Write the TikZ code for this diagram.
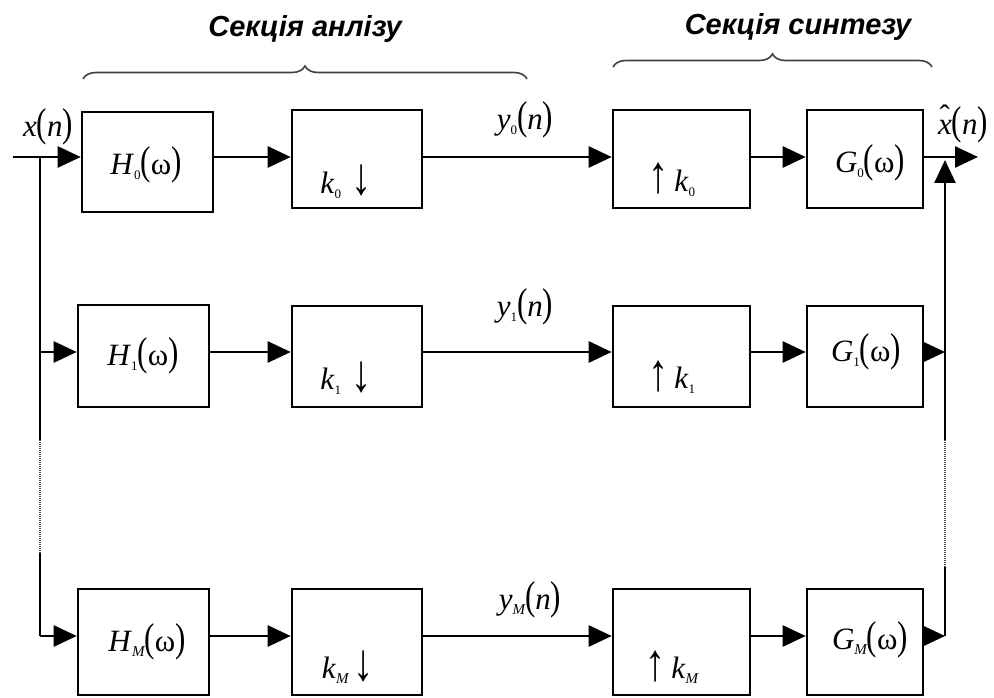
\documentclass[tikz,border=0pt]{standalone}
\usepackage{fontspec}
\usepackage{graphicx}
\setmainfont{Liberation Serif}
\newfontfamily\hdrfont{Liberation Sans}
\usetikzlibrary{arrows.meta,decorations.pathreplacing}
\newcommand{\bp}[1]{\scalebox{1}[1.3]{#1}}
\newcommand{\sub}[1]{\raisebox{-0.35ex}{\fontsize{13}{13}\selectfont #1}}
\newcommand{\subm}[1]{\raisebox{-0.35ex}{\fontsize{15}{15}\selectfont\itshape #1}}
\newcommand{\fn}[3]{\textit{#1}#2\bp{(}#3\bp{)}}
\newcommand{\dn}{\raisebox{-0.1ex}{\scalebox{1.3}[1.7]{↓}}}
\newcommand{\up}{\raisebox{-0.1ex}{\scalebox{1.3}[1.7]{↑}}}
\newcommand{\xhat}{\textit{x}\llap{\raisebox{0.28em}{ˆ}\hspace{0.06em}}}
\begin{document}
\begin{tikzpicture}[x=1pt,y=-1pt,
  blk/.style={draw,line width=2.6pt,inner sep=0pt},
  arr/.style={line width=2.6pt,-{Triangle[length=23pt,width=21pt]}},
  ln/.style={line width=2.6pt},
  dln/.style={line width=2.6pt,dash pattern=on 1pt off 1pt,black!70},
  txt/.style={inner sep=0pt,font=\fontsize{31}{31}\selectfont},
  hdr/.style={inner sep=0pt,font=\hdrfont\fontsize{29}{29}\selectfont\bfseries\itshape},
  brc/.style={decorate,decoration={brace,amplitude=13pt},line width=1.6pt,black!75}]
\useasboundingbox (0,0) rectangle (994,698);
% boxes
\node[blk,minimum width=131pt,minimum height=100pt] (H0) at (147.5,162) {};
\node[blk,minimum width=131pt,minimum height=102pt] (H1) at (143.5,356) {};
\node[blk,minimum width=131pt,minimum height=106pt] (HM) at (143.5,642) {};
\node[blk,minimum width=130pt,minimum height=98pt] (K0) at (357,159) {};
\node[blk,minimum width=130pt,minimum height=101pt] (K1) at (357,356.5) {};
\node[blk,minimum width=130pt,minimum height=106pt] (KM) at (357,642) {};
\node[blk,minimum width=137pt,minimum height=98pt] (U0) at (681.5,159) {};
\node[blk,minimum width=137pt,minimum height=101pt] (U1) at (681.5,356.5) {};
\node[blk,minimum width=137pt,minimum height=106pt] (UM) at (681.5,642) {};
\node[blk,minimum width=116pt,minimum height=98pt] (G0) at (865,159) {};
\node[blk,minimum width=116pt,minimum height=101pt] (G1) at (865,356.5) {};
\node[blk,minimum width=116pt,minimum height=106pt] (GM) at (865,642) {};
% box texts
\node[txt] (H0t) at (146,165) {\fn{H}{\sub{0}}{ω}};
\node[txt] (H1t) at (143,356) {\fn{H}{\sub{1}}{ω}};
\node[txt] (HMt) at (147,642) {\fn{H}{\subm{M}}{ω}};
\node[txt] (K0t) at (346,182) {\textit{k}\sub{0}\,\,\dn};
\node[txt] (K1t) at (346,378) {\textit{k}\sub{1}\,\,\dn};
\node[txt] (KMt) at (348,667) {\textit{k}\subm{M}\,\dn};
\node[txt] (U0t) at (672,180) {\up\,\textit{k}\sub{0}};
\node[txt] (U1t) at (672,377) {\up\,\textit{k}\sub{1}};
\node[txt] (UMt) at (672,667) {\up\,\textit{k}\subm{M}};
\node[txt] (G0t) at (870,163) {\fn{G}{\sub{0}}{ω}};
\node[txt] (G1t) at (866,352) {\fn{G}{\sub{1}}{ω}};
\node[txt] (GMt) at (870,640) {\fn{G}{\subm{M}}{ω}};
% signal labels
\node[txt] (xin) at (48,127) {\textit{x}\bp{(}\textit{n}\bp{)}};
\node[txt] (y0) at (525,120) {\textit{y}\sub{0}\bp{(}\textit{n}\bp{)}};
\node[txt] (y1) at (525,307) {\textit{y}\sub{1}\bp{(}\textit{n}\bp{)}};
\node[txt] (yM) at (530,600) {\textit{y}\subm{M}\bp{(}\textit{n}\bp{)}};
\node[txt] (xout) at (963,124) {\xhat\bp{(}\textit{n}\bp{)}};
% headers
\node[hdr] (ha) at (305,29) {Секція анлізу};
\node[hdr] (hs) at (798,27) {Секція синтезу};
\coordinate (ba1) at (83,79); \coordinate (ba2) at (527,79);
\coordinate (bs1) at (613,67); \coordinate (bs2) at (932,67);
\draw[brc] (ba1) -- (ba2);
\draw[brc] (bs1) -- (bs2);
% line levels
\coordinate (L0) at (0,157);
\coordinate (L1) at (0,352);
\coordinate (LM) at (0,636);
\coordinate (in) at (13,157);
\coordinate (out) at (978,157);
\coordinate (lt) at (40,157);
\coordinate (ld1) at (40,440);
\coordinate (ld2) at (40,553);
\coordinate (lb) at (40,636);
\coordinate (rt) at (945,157);
\coordinate (rd1) at (945,440);
\coordinate (rd2) at (945,567);
\coordinate (rb) at (945,636);
% input
\draw[arr] (in) -- (H0.west |- L0);
\draw[ln] (lt) -- (ld1);
\draw[dln] (ld1) -- (ld2);
\draw[ln] (ld2) -- (lb);
\draw[arr] (lb) -- (HM.west |- LM);
\draw[arr] (lt |- L1) -- (H1.west |- L1);
% row connectors
\draw[arr] (H0.east |- L0) -- (K0.west |- L0);
\draw[arr] (K0.east |- L0) -- (U0.west |- L0);
\draw[arr] (U0.east |- L0) -- (G0.west |- L0);
\draw[arr] (G0.east |- L0) -- (out);
\draw[arr] (H1.east |- L1) -- (K1.west |- L1);
\draw[arr] (K1.east |- L1) -- (U1.west |- L1);
\draw[arr] (U1.east |- L1) -- (G1.west |- L1);
\draw[arr] (HM.east |- LM) -- (KM.west |- LM);
\draw[arr] (KM.east |- LM) -- (UM.west |- LM);
\draw[arr] (UM.east |- LM) -- (GM.west |- LM);
% output collection
\draw[arr] (G1.east |- L1) -- (rt |- L1);
\draw[arr] (GM.east |- LM) -- (rb);
\draw[ln] (rb) -- (rd2);
\draw[dln] (rd2) -- (rd1);
\draw[arr] (rd1) -- (945,160);
\end{tikzpicture}
\end{document}
